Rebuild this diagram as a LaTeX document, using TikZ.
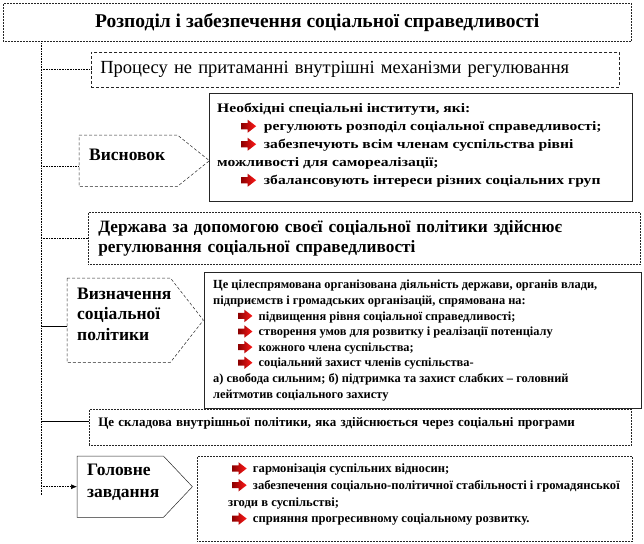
\documentclass[tikz,border=0pt]{standalone}
\usepackage{fontspec}
\setmainfont{Liberation Serif}[BoldFont={Liberation Serif Bold}]
\newfontfamily\wide{Liberation Serif}[BoldFont={Liberation Serif Bold}, FakeStretch=1.2]
\usetikzlibrary{arrows.meta,calc}

% червона стрілка-маркер
\newcommand{\arr}{\tikz[baseline=-0.33em]\shade[left color=red!55!black, right color=red!90!white]
  (0pt,-0.24em) -- (0.5em,-0.24em) -- (0.5em,-0.5em) -- (1.15em,0pt) -- (0.5em,0.5em) -- (0.5em,0.24em) -- (0pt,0.24em) -- cycle;}
\newcommand{\lift}{\rule[-12pt]{0pt}{0pt}}

\begin{document}
\begin{tikzpicture}[x=1pt, y=1pt,
    frame/.style={draw=black!85, line width=0.5pt, anchor=north west, inner sep=0pt},
    dotframe/.style={frame, densely dotted},
    dashframe/.style={frame, densely dashed},
    outline/.style={draw=black!85, line width=0.5pt},
    tag/.style={anchor=north west, align=left, inner ysep=0pt, inner xsep=10pt, font=\bfseries\fontsize{17.5}{21}\selectfont},
    txt/.style={anchor=north west, align=left, inner sep=0pt},
    link/.style={densely dotted, line width=0.6pt},
    solidlink/.style={line width=0.6pt}
]

\useasboundingbox (0,0) rectangle (644,-543);

% заголовок
\node[dotframe, minimum width=628, minimum height=38, font=\bfseries\fontsize{19.5}{22}\selectfont] (title) at (3,-3) {Розподіл і забезпечення соціальної справедливості};

\node[dashframe, minimum width=528, minimum height=35, inner xsep=9pt, text width=510, align=left, font=\fontsize{18.5}{22}\selectfont] (proc) at (91,-52) {Процесу не притаманні внутрішні механізми регулювання};

% висновок
\node[tag, minimum width=130, minimum height=51, text width=110] (vysn) at (79,-135) {Висновок\lift};
\draw[outline, densely dashed] (vysn.north west) -- ([xshift=-32]vysn.north east) -- (vysn.east) -- ([xshift=-32]vysn.south east) -- (vysn.south west) -- cycle;

\node[frame, minimum width=423, minimum height=108] (inst) at (209,-93) {};
\node[txt, font=\wide\bfseries\fontsize{13}{18}\selectfont] (instt) at (217,-103) {Необхідні  спеціальні інститути, які:\\
\hspace*{24pt}\arr\ \ регулюють розподіл соціальної справедливості;\\
\hspace*{24pt}\arr\ \ забезпечують всім членам суспільства рівні\\
можливості для самореалізації;\\
\hspace*{24pt}\arr\ \ збалансовують інтереси різних соціальних груп};

\node[dotframe, minimum width=552, minimum height=52, inner xsep=10pt, text width=532, align=left, font=\bfseries\fontsize{17.3}{20}\selectfont] (derzh) at (88,-212) {Держава  за допомогою своєї соціальної політики здійснює\\
регулювання  соціальної справедливості};

% визначення
\node[tag, minimum width=136, minimum height=84, text width=116, font=\bfseries\fontsize{17.5}{20.5}\selectfont] (vyzn) at (67,-278) {Визначення\\ соціальної\\ політики\lift};
\draw[outline, densely dashed] (vyzn.north west) -- ([xshift=-33]vyzn.north east) -- (vyzn.east) -- ([xshift=-33]vyzn.south east) -- (vyzn.south west) -- cycle;

\node[frame, minimum width=437, minimum height=136] (polit) at (204,-272) {};
\node[txt, font=\bfseries\fontsize{12.4}{15.6}\selectfont] (politt) at (213,-280) {Це цілеспрямована організована діяльність  держави, органів влади,\\
підприємств і громадських  організацій, спрямована на:\\
\hspace*{25pt}\arr\ \ підвищення рівня соціальної справедливості;\\
\hspace*{25pt}\arr\ \ створення умов для розвитку і реалізації потенціалу\\
\hspace*{25pt}\arr\ \ кожного члена суспільства;\\
\hspace*{25pt}\arr\ \ соціальний захист членів суспільства-\\
а) свобода сильним; б) підтримка та захист слабких -- головний\\
лейтмотив соціального захисту};

\node[dotframe, minimum width=542, minimum height=36, inner xsep=9pt, text width=524, align=left, font=\bfseries\fontsize{13}{15}\selectfont] (skl) at (89,-409) {Це  складова  внутрішньої  політики,  яка  здійснюється  через  соціальні  програми\rule[-10pt]{0pt}{0pt}};

% головне завдання
\node[tag, minimum width=115, minimum height=61, text width=95, font=\bfseries\fontsize{17.5}{22}\selectfont] (holov) at (77,-456) {Головне\\ завдання\lift};
\draw[outline] (holov.north west) -- ([xshift=-29]holov.north east) -- (holov.east) -- ([xshift=-29]holov.south east) -- (holov.south west) -- cycle;

\node[dotframe, minimum width=435, minimum height=85] (zavd) at (197,-456) {};
\node[txt, font=\bfseries\fontsize{12.6}{16.7}\selectfont] (zavdt) at (228,-462) {\hspace*{4pt}\arr\ \ гармонізація суспільних відносин;\\
\hspace*{4pt}\arr\ \ забезпечення соціально-політичної  стабільності і громадянської\\
згоди в суспільстві;\\
\hspace*{4pt}\arr\ \ сприяння прогресивному соціальному розвитку.};

% з'єднання
\coordinate (top) at ([xshift=38]title.south west);
\coordinate (bot) at (41,-495);
\draw[link] (top) -- (bot);
\draw[link] (top |- proc.west) -- (proc.west);
\draw[link] ($(top |- vysn.west)+(0,-6)$) -- ($(vysn.west)+(0,-6)$);
\draw[link] (top |- derzh.west) -- (derzh.west);
\draw[solidlink] ($(top |- vyzn.west)+(0,-6)$) -- ($(vyzn.west)+(0,-6)$);
\draw[solidlink] ($(top |- skl.west)+(0,6)$) -- ($(skl.west)+(0,6)$);
\draw[link, -{Latex[length=6pt,width=5pt]}] (top |- holov.west) -- (holov.west);

\end{tikzpicture}
\end{document}
